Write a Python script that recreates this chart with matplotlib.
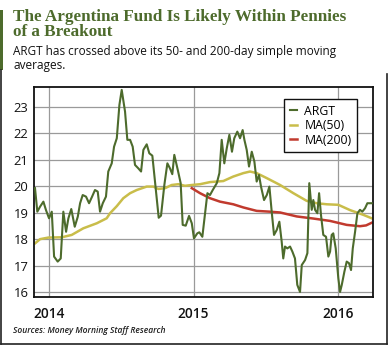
import matplotlib
matplotlib.use("Agg")
import matplotlib.pyplot as plt
from matplotlib.lines import Line2D
from matplotlib.patches import Rectangle

# ARGT weekly closes (decimal year, price)
argt_t = [2013.903, 2013.919, 2013.938, 2013.961, 2013.979, 2014.000, 2014.019, 2014.035,
          2014.060, 2014.081, 2014.099, 2014.118, 2014.134, 2014.154, 2014.178, 2014.199,
          2014.215, 2014.233, 2014.256, 2014.277, 2014.298, 2014.318, 2014.337, 2014.353,
          2014.372, 2014.394, 2014.410, 2014.434, 2014.450, 2014.469, 2014.487, 2014.503,
          2014.526, 2014.542, 2014.561, 2014.579, 2014.595, 2014.618, 2014.637, 2014.653,
          2014.676, 2014.694, 2014.715, 2014.738, 2014.759, 2014.775, 2014.798, 2014.819,
          2014.837, 2014.853, 2014.867, 2014.891, 2014.911, 2014.925, 2014.946, 2014.969,
          2014.988, 2015.003, 2015.026, 2015.040, 2015.061, 2015.080, 2015.096, 2015.114,
          2015.133, 2015.161, 2015.179, 2015.195, 2015.213, 2015.230, 2015.248, 2015.266,
          2015.282, 2015.303, 2015.322, 2015.340, 2015.352, 2015.368, 2015.384, 2015.403,
          2015.421, 2015.437, 2015.453, 2015.467, 2015.488, 2015.507, 2015.525, 2015.541,
          2015.557, 2015.576, 2015.594, 2015.610, 2015.621, 2015.633, 2015.649, 2015.668,
          2015.684, 2015.702, 2015.718, 2015.737, 2015.749, 2015.772, 2015.788, 2015.801,
          2015.818, 2015.829, 2015.841, 2015.857, 2015.869, 2015.882, 2015.898, 2015.917,
          2015.933, 2015.945, 2015.956, 2015.967, 2015.984, 2016.002, 2016.014, 2016.026,
          2016.044, 2016.060, 2016.076, 2016.090, 2016.102, 2016.118, 2016.134, 2016.152,
          2016.168, 2016.187, 2016.203, 2016.233]
argt = [19.93, 19.04, 19.23, 19.42, 19.10, 18.79, 19.04, 17.34,
        17.15, 17.27, 19.04, 18.28, 18.79, 19.14, 18.47, 18.85,
        19.36, 19.67, 19.61, 19.36, 19.61, 19.86, 19.80, 19.04,
        19.36, 19.61, 20.56, 20.87, 21.50, 21.82, 23.08, 23.65,
        22.83, 21.76, 21.76, 21.50, 20.81, 20.68, 20.56, 21.38,
        21.59, 21.25, 21.16, 19.93, 18.81, 18.89, 20.05, 20.87,
        20.68, 20.46, 21.19, 20.62, 20.12, 18.54, 18.51, 18.88,
        18.60, 18.03, 18.22, 18.26, 18.09, 18.98, 19.74, 19.67,
        19.86, 20.12, 20.50, 21.76, 20.87, 21.44, 21.95, 21.31,
        21.82, 22.07, 21.82, 22.13, 21.76, 21.38, 20.75, 21.31,
        20.94, 20.18, 20.43, 19.99, 19.48, 19.67, 19.99, 19.04,
        18.16, 18.35, 18.66, 17.91, 17.27, 17.72, 17.65, 17.72,
        17.53, 17.27, 16.27, 16.00, 17.02, 17.21, 17.47, 20.12,
        19.11, 19.48, 19.11, 18.98, 19.74, 18.92, 18.16, 18.09,
        17.34, 17.53, 18.16, 18.22, 17.65, 16.52, 16.00, 16.27,
        16.77, 17.15, 17.09, 16.83, 17.65, 18.28, 18.98, 19.11,
        19.04, 19.17, 19.36, 19.36]

# 50-day simple moving average
ma50_t = [2013.903, 2013.938, 2013.995, 2014.088, 2014.157, 2014.237, 2014.330, 2014.399,
          2014.422, 2014.469, 2014.514, 2014.561, 2014.607, 2014.676, 2014.722, 2014.756,
          2014.803, 2014.849, 2014.895, 2014.941, 2014.988, 2015.045, 2015.114, 2015.206,
          2015.275, 2015.345, 2015.391, 2015.437, 2015.507, 2015.599, 2015.691, 2015.783,
          2015.853, 2015.922, 2016.002, 2016.083, 2016.175, 2016.233]
ma50 = [17.84, 18.00, 18.06, 18.07, 18.16, 18.41, 18.60, 18.79,
        18.98, 19.25, 19.55, 19.74, 19.86, 19.99, 19.99, 19.90,
        19.93, 20.05, 20.08, 20.02, 20.05, 20.08, 20.16, 20.20,
        20.37, 20.50, 20.56, 20.50, 20.31, 20.05, 19.74, 19.45,
        19.36, 19.32, 19.30, 19.10, 18.92, 18.79]

# 200-day simple moving average
ma200_t = [2014.988, 2015.045, 2015.114, 2015.183, 2015.275, 2015.345, 2015.437, 2015.529,
           2015.599, 2015.714, 2015.829, 2015.945, 2016.060, 2016.152, 2016.194, 2016.233]
ma200 = [19.93, 19.74, 19.55, 19.42, 19.32, 19.20, 19.07, 19.04,
         19.01, 18.86, 18.78, 18.69, 18.54, 18.49, 18.52, 18.62]

year_ticks = [2014, 2015, 2016]
price_ticks = [16, 17, 18, 19, 20, 21, 22, 23]

green = "#4d6b2c"
yellow = "#c9bd4a"
red = "#c13a2e"

W, H = 390, 345
fig = plt.figure(figsize=(W / 100, H / 100), dpi=100)
fig.patch.set_facecolor("white")


def fx(px):
    return px / W


def fy(py):
    return 1 - py / H


# headline block
fig.text(fx(13), fy(21), "The Argentina Fund Is Likely Within Pennies",
         family="Liberation Serif", weight="bold", size=12.3, color=green, va="baseline")
fig.text(fx(13), fy(36.5), "of a Breakout",
         family="Liberation Serif", weight="bold", size=12.3, color=green, va="baseline")
fig.text(fx(13), fy(55), "ARGT has crossed above its 50- and 200-day simple moving",
         family="Open Sans", size=8.45, color="#111111", va="baseline")
fig.text(fx(13), fy(68.5), "averages.",
         family="Open Sans", size=8.45, color="#111111", va="baseline")
fig.text(fx(13), fy(333), "Sources: Money Morning Staff Research",
         family="Open Sans", style="italic", weight="semibold", size=6.1,
         color="#222222", va="baseline")

# green accent bar and outer frame
fig.add_artist(Rectangle((0, fy(70)), fx(3), fy(10) - fy(70),
                         transform=fig.transFigure, color=green, lw=0))
frame = dict(transform=fig.transFigure, color="#222222", lw=1.2)
fig.add_artist(Line2D([fx(0.8), fx(0.8)], [fy(70), fy(343.5)], **frame))
fig.add_artist(Line2D([fx(0.8), fx(387)], [fy(343.5), fy(343.5)], **frame))
fig.add_artist(Line2D([fx(387), fx(387)], [fy(343.5), fy(74)], **frame))

ax = fig.add_axes([fx(34), fy(297), fx(373) - fx(34), fy(87) - fy(297)])
ax.plot(argt_t, argt, color=green, lw=1.5, label="ARGT", zorder=3)
ax.plot(ma50_t, ma50, color=yellow, lw=1.8, label="MA(50)", zorder=2)
ax.plot(ma200_t, ma200, color=red, lw=1.8, label="MA(200)", zorder=2)

ax.set_xlim(2013.896, 2016.242)
ax.set_ylim(15.81, 23.76)
ax.set_xticks(year_ticks)
ax.set_xticklabels([str(y) for y in year_ticks], family="Open Sans",
                   weight="semibold", size=9.8, color="#111111")
ax.set_yticks(price_ticks)
ax.set_yticklabels([str(p) for p in price_ticks], family="Open Sans",
                   size=9.4, color="#111111")
ax.tick_params(length=0, pad=4)
ax.tick_params(axis="x", pad=7)
ax.grid(True, color="#9a9a9a", lw=0.9)
ax.set_axisbelow(True)
for s in ax.spines.values():
    s.set_color("#111111")
    s.set_linewidth(1.3)

leg = ax.legend(loc="upper right", bbox_to_anchor=((363 - 34) / 339, (297 - 93) / 210),
                prop={"family": "Open Sans", "size": 8.8}, handlelength=0.6,
                handletextpad=0.6, borderpad=0.45, labelspacing=0.12,
                fancybox=False, framealpha=1)
leg.get_frame().set_edgecolor("#111111")
leg.get_frame().set_linewidth(1.0)

fig.savefig("out.png", dpi=100)
